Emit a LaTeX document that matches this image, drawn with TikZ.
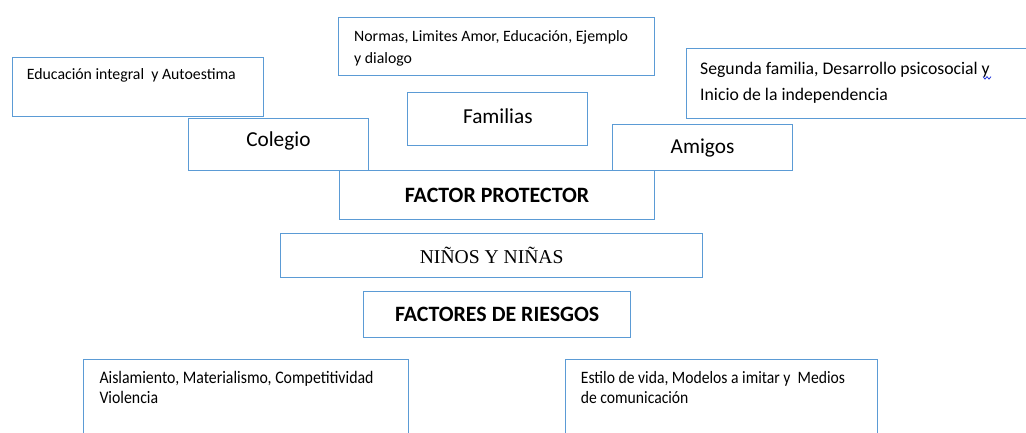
\documentclass[tikz,border=0pt]{standalone}
\usepackage{fontspec}
\setmainfont{Carlito}
\newfontfamily\timesf{Liberation Serif}
\newfontfamily\condf[FakeStretch=0.9]{Carlito}
\definecolor{boxblue}{RGB}{91,155,213}
\definecolor{squig}{RGB}{40,60,220}
\tikzset{
  box/.style={draw=boxblue, line width=1.1pt, fill=white, inner sep=0pt, anchor=north west},
  small/.style={anchor=base west, inner sep=0pt, font=\fontsize{15.8}{21.6}\selectfont},
  big/.style={inner sep=0pt, font=\fontsize{21.3}{25}\selectfont},
  bold/.style={inner sep=0pt, font=\fontsize{21.9}{25}\selectfont\bfseries},
}
\begin{document}
\begin{tikzpicture}[x=1pt,y=-1pt]
\useasboundingbox (0,0) rectangle (1026,433);
\fill[white] (0,0) rectangle (1026,433);
% top text boxes
\node[box, minimum width=251, minimum height=59.5] (edu) at (11.7,56.7) {};
\node[small, font=\fontsize{15.8}{21}\selectfont] (edut) at ([xshift=15pt,yshift=-23.3pt]edu.north west) {Educación integral \ y Autoestima};
\node[box, minimum width=316, minimum height=57.7] (nor) at (338.3,17.3) {};
\node[small] (nort) at ([xshift=15.7pt,yshift=-24.4pt]nor.north west) {\parbox[t]{320pt}{\raggedright Normas, Limites Amor, Educación, Ejemplo\\ y dialogo}};
\node[box, minimum width=345, minimum height=70] (seg) at (686,48.3) {};
\node[small, font=\fontsize{17.7}{26}\selectfont] (segt) at ([xshift=14pt,yshift=-26.7pt]seg.north west) {\parbox[t]{330pt}{\raggedright Segunda familia, Desarrollo psicosocial y\\ Inicio de la independencia}};
\coordinate (sq) at ([xshift=297pt,yshift=-28.3pt]seg.north west);
\draw[squig, line width=0.8pt] (sq) -- ++(2,2.5) -- ++(2,-2.5) -- ++(2,2.5) -- ++(2,-2.5);
% category boxes
\node[box, minimum width=180.3, minimum height=51.7] (col) at (187.7,118.3) {};
\node[big] (colt) at ([yshift=4pt]col.center) {Colegio};
\node[box, minimum width=180, minimum height=53.3] (fam) at (407.3,91.7) {};
\node[big] (famt) at ([yshift=3pt]fam.center) {Familias};
\node[box, minimum width=180.6, minimum height=46] (ami) at (611.7,124) {};
\node[big] (amit) at (ami.center) {Amigos};
% central stack
\node[box, minimum width=315, minimum height=49] (fp) at (339,170) {};
\node[bold] (fpt) at (fp.center) {FACTOR PROTECTOR};
\node[box, minimum width=422.3, minimum height=44] (nn) at (280,233.3) {};
\node[inner sep=0pt, font=\fontsize{19.6}{24}\selectfont\timesf] (nnt) at (nn.center) {NIÑOS Y NIÑAS};
\node[box, minimum width=266.7, minimum height=46] (fr) at (363.3,290.7) {};
\node[bold] (frt) at (fr.center) {FACTORES DE RIESGOS};
% bottom boxes
\node[box, minimum width=324.7, minimum height=90] (ais) at (83,359.3) {};
\node[small, font=\fontsize{17.6}{20}\selectfont\condf] (aist) at ([xshift=16.3pt,yshift=-23.7pt]ais.north west) {\parbox[t]{320pt}{\raggedright Aislamiento, Materialismo, Competitividad\\ Violencia}};
\node[box, minimum width=311.7, minimum height=90] (est) at (565,359.3) {};
\node[small, font=\fontsize{17.4}{20}\selectfont\condf] (estt) at ([xshift=15.7pt,yshift=-23.7pt]est.north west) {\parbox[t]{300pt}{\raggedright Estilo de vida, Modelos a imitar y \ Medios\\ de comunicación}};
\end{tikzpicture}
\end{document}
